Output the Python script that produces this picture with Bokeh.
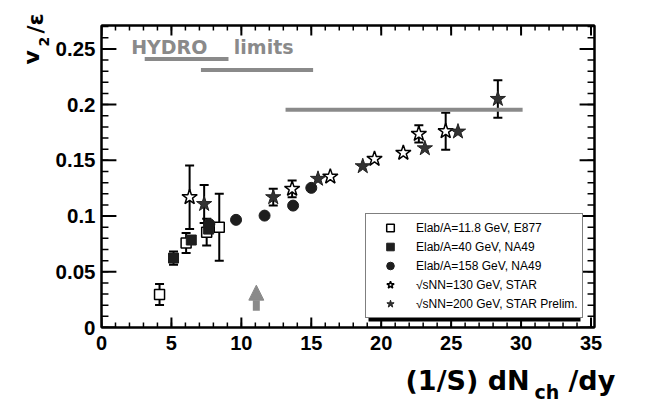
from bokeh.plotting import figure
from bokeh.layouts import row, column
from bokeh.core.properties import value
from bokeh.models import (ColumnDataSource, Whisker, TeeHead, Legend, LegendItem,
                          LinearAxis, FixedTicker, Label, Arrow, NormalHead,
                          BoxAnnotation, Range1d, CustomJSTickFormatter)
from bokeh.embed import file_html
from bokeh.resources import INLINE
import math

# ---------------- data ----------------
e877_x = [4.15, 6.05, 7.52, 8.42]
e877_y = [0.0296, 0.0758, 0.0855, 0.090]
e877_err = [0.0095, 0.009, 0.012, 0.030]

na49_40_x = [5.15, 6.42, 7.66]
na49_40_y = [0.0623, 0.0785, 0.0883]
na49_40_err = [0.006, 0.0, 0.0]

na49_158_x = [7.71, 9.62, 11.66, 13.70, 15.00]
na49_158_y = [0.0928, 0.0966, 0.1004, 0.1094, 0.1253]

star130_x = [6.30, 13.63, 16.36, 19.52, 21.58, 22.69, 24.61]
star130_y = [0.1169, 0.1244, 0.1354, 0.1513, 0.1567, 0.1737, 0.1761]
star130_err = [0.0285, 0.0075, 0.0, 0.0, 0.0, 0.0078, 0.0165]

star200_x = [7.34, 12.28, 15.48, 18.68, 23.12, 25.49, 28.34]
star200_y = [0.1108, 0.1169, 0.1334, 0.1447, 0.1608, 0.1758, 0.2051]
star200_err = [0.017, 0.0075, 0.0, 0.0, 0.0, 0.0, 0.0168]

hydro_x0 = [3.09, 7.11, 13.16]
hydro_x1 = [9.08, 15.13, 30.11]
hydro_y = [0.2410, 0.2311, 0.1953]
hydro_text = "HYDRO\u00a0\u00a0\u00a0\u00a0limits"
hydro_text_x = 2.12
hydro_text_y = 0.2516

arrow_x = [11.07]
arrow_y0 = [0.0150]
arrow_y1 = [0.0380]

legend_labels = ["Elab/A=11.8 GeV, E877",
                 "Elab/A=40 GeV, NA49",
                 "Elab/A=158 GeV, NA49",
                 "\u221asNN=130 GeV, STAR",
                 "\u221asNN=200 GeV, STAR Prelim."]

x_ticks = [0, 5, 10, 15, 20, 25, 30, 35]
x_tick_labels = ["0", "5", "10", "15", "20", "25", "30", "35"]
y_ticks = [0, 0.05, 0.1, 0.15, 0.2, 0.25]
y_tick_labels = ["0", "0.05", "0.1", "0.15", "0.2", "0.25"]
x_minor = list(range(0, 36))
y_minor = [round(i * 0.01, 2) for i in range(0, 28)]

X_MAX = 35.25
Y_MAX = 0.271

GRAY = "#8a8a8a"
DARK = "#1e1e1e"
FONT = "Liberation Sans"
TFONT = "DejaVu Sans"

# ---------------- main figure ----------------
W, H = 598, 360
BL, BR, BT, BB = 46, 56, 25, 33
p = figure(width=W, height=H, x_range=Range1d(0, X_MAX), y_range=Range1d(0, Y_MAX),
           output_backend="svg", toolbar_location=None,
           min_border_left=BL, min_border_right=BR, min_border_top=BT, min_border_bottom=BB)
p.xgrid.visible = False
p.ygrid.visible = False
p.outline_line_color = "black"
p.outline_line_width = 2
p.background_fill_color = "white"
p.border_fill_color = "white"

# pixel -> data conversion for the inward tick marks
PX_X = X_MAX / (W - BL - BR)
PX_Y = Y_MAX / (H - BT - BB)


def style_axis(ax, ticks, labels, size):
    ax.ticker = FixedTicker(ticks=ticks)
    ax.axis_line_width = 2
    ax.axis_line_color = "black"
    ax.major_tick_in = 0
    ax.major_tick_out = 0
    ax.minor_tick_in = 0
    ax.minor_tick_out = 0
    ax.major_tick_line_color = None
    ax.minor_tick_line_color = None
    ax.major_label_text_font = FONT
    ax.major_label_text_font_style = "bold"
    ax.major_label_text_font_size = size
    ax.major_label_text_color = "black"
    if labels is None:
        ax.formatter = CustomJSTickFormatter(code="return ''")
        ax.major_label_standoff = 0
    else:
        ax.major_label_overrides = {t: l for t, l in zip(ticks, labels)}


style_axis(p.xaxis[0], x_ticks, x_tick_labels, "20px")
p.xaxis[0].major_label_standoff = 8
style_axis(p.yaxis[0], y_ticks, y_tick_labels, "20.5px")
p.yaxis[0].major_label_standoff = 6

top_ax = LinearAxis()
style_axis(top_ax, x_ticks, None, "20px")
p.add_layout(top_ax, "above")
right_ax = LinearAxis()
style_axis(right_ax, y_ticks, None, "20px")
p.add_layout(right_ax, "right")


# inward tick marks on all four sides
def vticks(xs, y0, length_px, width):
    dy = length_px * PX_Y * (1 if y0 == 0 else -1)
    p.segment(x0=xs, x1=xs, y0=[y0] * len(xs), y1=[y0 + dy] * len(xs),
              line_color="black", line_width=width)


def hticks(ys, x0, length_px, width):
    dx = length_px * PX_X * (1 if x0 == 0 else -1)
    p.segment(x0=[x0] * len(ys), x1=[x0 + dx] * len(ys), y0=ys, y1=ys,
              line_color="black", line_width=width)


vticks(x_minor, 0, 5, 1.5)
vticks(x_ticks, 0, 10, 2)
vticks(x_minor, Y_MAX, 5, 1.5)
vticks(x_ticks, Y_MAX, 10, 2)
hticks(y_minor, 0, 7, 1.5)
hticks(y_ticks, 0, 15, 2)
hticks(y_minor, X_MAX, 7, 1.5)
hticks(y_ticks, X_MAX, 15, 2)

# hydro limits
p.segment(x0=hydro_x0, x1=hydro_x1, y0=hydro_y, y1=hydro_y, line_color=GRAY, line_width=4)
p.add_layout(Label(x=hydro_text_x, y=hydro_text_y, text=hydro_text, text_baseline="middle",
                   text_font=TFONT, text_font_style="bold", text_font_size="19px",
                   text_color=GRAY))

# arrow
arrow_src = ColumnDataSource(dict(x=arrow_x, y0=arrow_y0, y1=arrow_y1))
p.add_layout(Arrow(source=arrow_src, x_start="x", y_start="y0", x_end="x", y_end="y1",
                   line_color=GRAY, line_width=7,
                   end=NormalHead(size=15, fill_color=GRAY, line_color=GRAY, line_width=1)))


def add_errors(xs, ys, es):
    sel = [(x, y, e) for x, y, e in zip(xs, ys, es) if e > 0]
    src = ColumnDataSource(dict(x=[s[0] for s in sel],
                                lo=[s[1] - s[2] for s in sel],
                                hi=[s[1] + s[2] for s in sel]))
    p.add_layout(Whisker(source=src, base="x", lower="lo", upper="hi", dimension="height",
                         line_color="black", line_width=2,
                         lower_head=TeeHead(size=9, line_width=2, line_color="black"),
                         upper_head=TeeHead(size=9, line_width=2, line_color="black")))


add_errors(e877_x, e877_y, e877_err)
add_errors(na49_40_x, na49_40_y, na49_40_err)
add_errors(star130_x, star130_y, star130_err)
add_errors(star200_x, star200_y, star200_err)

r_e877 = p.scatter(e877_x, e877_y, marker="square", size=10, fill_color="white",
                   line_color="black", line_width=1.5)
r_40 = p.scatter(na49_40_x, na49_40_y, marker="square", size=10, fill_color=DARK,
                 line_color=DARK, line_width=1)
r_158 = p.scatter(na49_158_x, na49_158_y, marker="circle", size=11, fill_color=DARK,
                  line_color=DARK, line_width=1)
r_130 = p.scatter(star130_x, star130_y, marker="star", size=16, fill_color="white",
                  line_color="black", line_width=1.5)
r_200 = p.scatter(star200_x, star200_y, marker="star", size=16, fill_color="#333333",
                  line_color="#222222", line_width=1)

legend_line = p.line(x=[], y=[], line_color="black", line_width=1.5)

# legend shadow
p.add_layout(BoxAnnotation(left=267, right=479, bottom=6, top=109,
                           left_units="screen", right_units="screen",
                           bottom_units="screen", top_units="screen",
                           fill_color="black", fill_alpha=1, line_color=None))

items = [LegendItem(label=lab, renderers=[legend_line, r])
         for lab, r in zip(legend_labels, [r_e877, r_40, r_158, r_130, r_200])]
legend = Legend(items=items, location=(264, 9), orientation="vertical",
                glyph_width=40, glyph_height=19, label_height=19, label_width=158,
                label_standoff=6, padding=4, spacing=0, margin=0,
                label_text_font=FONT, label_text_font_size="12px",
                label_text_color="black",
                border_line_color="black", border_line_width=1.5,
                background_fill_color="white", background_fill_alpha=1)
p.add_layout(legend, "center")


def strip(width, height, xr, yr):
    f = figure(width=width, height=height, x_range=Range1d(*xr), y_range=Range1d(*yr),
               x_axis_type=None, y_axis_type=None, output_backend="svg",
               toolbar_location=None, min_border=0)
    f.outline_line_color = None
    f.xgrid.visible = False
    f.ygrid.visible = False
    f.background_fill_color = "white"
    f.border_fill_color = "white"
    return f


TXT = dict(text_font=value(TFONT), text_font_style="bold", text_color="black",
           text_baseline="alphabetic", text_align="left")

# x-axis title strip (coordinates in canvas pixels, y downward)
xl = strip(650, 44, (0, 650), (404, 360))
xl.text(x=[405], y=[380], text=["(1/S) dN"], text_font_size="27px", **TXT)
xl.text(x=[534], y=[391], text=["ch"], text_font_size="19px", **TXT)
xl.text(x=[568], y=[380], text=["/dy"], text_font_size="27px", **TXT)

# y-axis title strip
yl = strip(52, 360, (0, 52), (360, 0))
yl.text(x=[31], y=[64], text=["v"], angle=math.pi / 2, text_font_size="22px", **TXT)
yl.text(x=[43], y=[46], text=["2"], angle=math.pi / 2, text_font_size="14px", **TXT)
yl.text(x=[35], y=[33], text=["/\u03b5"], angle=math.pi / 2, text_font_size="22px", **TXT)

layout = column(row(yl, column(p)), xl)
open("out.html", "w").write(file_html(layout, INLINE))
